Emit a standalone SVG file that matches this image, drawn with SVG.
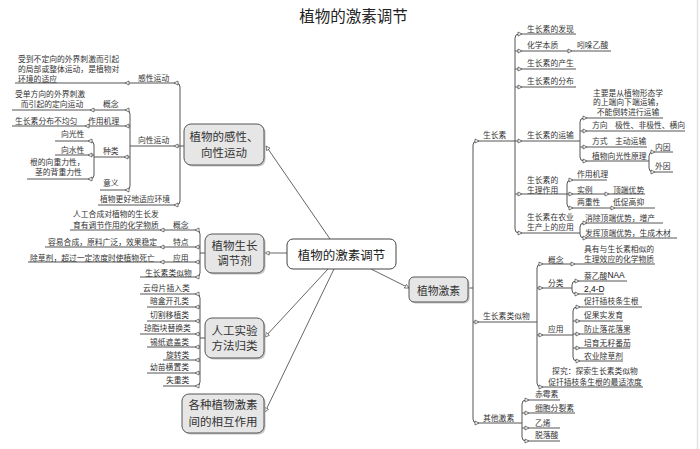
<svg xmlns="http://www.w3.org/2000/svg" xmlns:xlink="http://www.w3.org/1999/xlink" width="700" height="449" viewBox="0 0 700 449">
<style>
text{font-family:"Noto Sans CJK SC","Liberation Sans",sans-serif;dominant-baseline:central;fill:#333}
.t{font-size:7.8px}
.c{text-anchor:middle}
.n{font-size:11.5px;text-anchor:middle;fill:#333}
.lat{font-family:"Liberation Sans","Noto Sans",sans-serif;font-size:8.4px;fill:#111}
.l{fill:none;stroke:#555;stroke-width:1}
.k{fill:none;stroke:#555;stroke-width:0.9}
.box{fill:#e6e6e6;stroke:#555;stroke-width:1}
.sh{fill:#c4c4c4}
</style>
<defs>
<path id="ar" d="M-2,-2 L2,0 L-2,2 Z" fill="#fff" stroke="#555" stroke-width="0.8"/>
<path id="al" d="M2,-2 L-2,0 L2,2 Z" fill="#fff" stroke="#555" stroke-width="0.8"/>
<marker id="m" viewBox="0 0 6 6" refX="5.5" refY="3" markerWidth="5" markerHeight="5" markerUnits="userSpaceOnUse" orient="auto"><path d="M0.5,0.5 L5.5,3 L0.5,5.5 Z" fill="#fff" stroke="#444" stroke-width="0.8"/></marker>
</defs>
<rect width="700" height="449" fill="#fff"/>
<line x1="697.5" y1="0" x2="697.5" y2="449" stroke="#e2e2e2" stroke-width="1.5"/>
<text x="353.5" y="15" style="font-size:15.5px;text-anchor:middle;fill:#222">植物的激素调节</text>

<g id="connectors">
<!-- center links -->
<path class="k" d="M330,239 L266,146" marker-end="url(#m)"/>
<path class="k" d="M287,253 L265,253" marker-end="url(#m)"/>
<path class="k" d="M328,269 L265,337" marker-end="url(#m)"/>
<path class="k" d="M334,269 L265,412" marker-end="url(#m)"/>
<path class="k" d="M371,269 L409,288" marker-end="url(#m)"/>
<!-- node1 -->
<path class="l" d="M15,83 H176 Q180,83 180,87 V201 Q180,205 176,205 H98"/>
<path class="l" d="M184,146 H130"/>
<path class="l" d="M12,110 H126 Q130,110 130,114 V186 Q130,190 126,190 H100"/>
<path class="l" d="M130,126 H12 M130,157 H94"/>
<path class="l" d="M55,141 H90 Q94,141 94,145 V175 Q94,179 90,179 H27 M94,155 H55"/>
<use href="#al" x="176" y="83"/><use href="#al" x="127" y="83"/>
<use href="#al" x="176" y="146"/><use href="#al" x="176" y="205"/>
<use href="#al" x="127" y="110"/><use href="#al" x="92" y="110"/>
<use href="#al" x="127" y="126"/><use href="#al" x="87" y="126"/>
<use href="#al" x="126" y="157"/><use href="#al" x="127" y="190"/>
<use href="#al" x="90" y="141"/><use href="#al" x="90" y="155"/><use href="#al" x="90" y="179"/>
<!-- node2 -->
<path class="l" d="M70,230 H196 Q200,230 200,234 V273 Q200,277 196,277 H140 M205,253 H200 M200,247 H45 M200,262 H28"/>
<use href="#al" x="197" y="230"/><use href="#al" x="162" y="230"/>
<use href="#al" x="197" y="247"/><use href="#al" x="162" y="247"/>
<use href="#al" x="197" y="262"/><use href="#al" x="162" y="262"/>
<use href="#al" x="197" y="277"/>
<!-- node3 -->
<path class="l" d="M140,294 H196 Q200,294 200,298 V382 Q200,386 196,386 H163 M205,338 H200 M200,307 H147 M200,321 H147 M200,334 H140 M200,347 H147 M200,360 H163 M200,373 H147"/>
<use href="#al" x="197" y="294"/><use href="#al" x="197" y="307"/><use href="#al" x="197" y="321"/><use href="#al" x="197" y="334"/>
<use href="#al" x="197" y="347"/><use href="#al" x="197" y="360"/><use href="#al" x="197" y="373"/><use href="#al" x="197" y="386"/>
<!-- node5 main -->
<path class="l" d="M515,141 H477 Q473,141 473,145 V419 Q473,423 477,423 H522 M468,288 H473 M473,322 H537"/>
<path class="l" d="M576,34 H519 Q515,34 515,38 V229 Q515,233 519,233 H580 M515,51 H611 M515,69 H576 M515,87 H576 M515,141 H580 M515,194 H567"/>
<use href="#ar" x="477" y="141"/><use href="#ar" x="477" y="322"/><use href="#ar" x="477" y="423"/>
<use href="#ar" x="520" y="34"/><use href="#ar" x="520" y="51"/><use href="#ar" x="570" y="51"/><use href="#ar" x="520" y="69"/><use href="#ar" x="520" y="87"/>
<use href="#ar" x="520" y="141"/><use href="#ar" x="520" y="194"/><use href="#ar" x="520" y="233"/>
<!-- transport -->
<path class="l" d="M663,118 H584 Q580,118 580,122 V157 Q580,161 584,161 H649 M580,131 H685 M580,147 H647"/>
<path class="l" d="M673,152 H653 Q649,152 649,156 V168 Q649,172 653,172 H673"/>
<use href="#ar" x="585" y="118"/><use href="#ar" x="585" y="131"/><use href="#ar" x="585" y="147"/><use href="#ar" x="585" y="161"/>
<use href="#ar" x="653" y="152"/><use href="#ar" x="653" y="172"/>
<!-- physiology -->
<path class="l" d="M607,180 H571 Q567,180 567,184 V204 Q567,208 571,208 H655 M567,194 H645"/>
<use href="#ar" x="571" y="180"/><use href="#ar" x="571" y="194"/><use href="#ar" x="571" y="208"/>
<use href="#ar" x="607" y="194"/><use href="#ar" x="613" y="208"/>
<!-- agriculture -->
<path class="l" d="M663,223 H584 Q580,223 580,227 V234 Q580,238 584,238 H677"/>
<use href="#ar" x="585" y="223"/><use href="#ar" x="585" y="238"/>
<!-- analogues -->
<path class="l" d="M655,264 H541 Q537,264 537,268 V383 Q537,387 541,387 H643 M537,288 H572 M537,335 H573"/>
<use href="#ar" x="541" y="264"/><use href="#ar" x="573" y="264"/><use href="#ar" x="541" y="288"/><use href="#ar" x="541" y="335"/><use href="#ar" x="541" y="387"/>
<path class="l" d="M627,281 H576 Q572,281 572,285 V290 Q572,294 576,294 H604"/>
<use href="#ar" x="577" y="281"/><use href="#ar" x="577" y="294"/>
<path class="l" d="M642,307 H577 Q573,307 573,311 V357 Q573,361 577,361 H623 M573,321 H623 M573,334 H630 M573,348 H630"/>
<use href="#ar" x="578" y="307"/><use href="#ar" x="578" y="321"/><use href="#ar" x="578" y="334"/><use href="#ar" x="578" y="348"/><use href="#ar" x="578" y="361"/>
<!-- other hormones -->
<path class="l" d="M560,400 H526 Q522,400 522,404 V437 Q522,441 526,441 H560 M522,413 H575 M522,428 H560"/>
<use href="#ar" x="527" y="400"/><use href="#ar" x="527" y="413"/><use href="#ar" x="527" y="428"/><use href="#ar" x="527" y="441"/>
</g>

<g id="center">
<rect x="287" y="239" width="109" height="30" rx="6" fill="#fff" stroke="#444" stroke-width="1"/>
<text x="341.5" y="254" style="font-size:12.5px;text-anchor:middle;fill:#222">植物的激素调节</text>
</g>

<g id="node-ganxing">
<rect class="sh" x="185.5" y="125.5" width="80" height="41" rx="7"/>
<rect class="box" x="184" y="124" width="80" height="41" rx="7"/>
<text class="n" x="224" y="136">植物的感性、</text>
<text class="n" x="224" y="152">向性运动</text>
</g>
<g id="branch-ganxing" class="t">
<text class="t" x="138" y="77">感性运动</text>
<text class="t" x="18" y="58">受到不定向的外界刺激而引起</text>
<text class="t" x="18" y="68">的局部或整体运动，是植物对</text>
<text class="t" x="18" y="78">环境的适应</text>
<text class="t" x="138" y="139">向性运动</text>
<text class="t" x="103" y="103">概念</text>
<text class="t c" x="50" y="93">受单方向的外界刺激</text>
<text class="t c" x="52" y="103">而引起的定向运动</text>
<text class="t" x="88" y="120">作用机理</text>
<text class="t" x="15" y="120">生长素分布不均匀</text>
<text class="t" x="103" y="150">种类</text>
<text class="t" x="61" y="133">向光性</text>
<text class="t" x="61" y="149">向水性</text>
<text class="t" x="30" y="161">根的向重力性，</text>
<text class="t" x="35" y="171">茎的背重力性</text>
<text class="t" x="103" y="182">意义</text>
<text class="t" x="100" y="198">植物更好地适应环境</text>
</g>

<g id="node-tiaojieji">
<rect class="sh" x="206.5" y="235.5" width="59" height="39" rx="7"/>
<rect class="box" x="205" y="234" width="59" height="39" rx="7"/>
<text class="n" x="234.5" y="245">植物生长</text>
<text class="n" x="234.5" y="260">调节剂</text>
</g>
<g id="branch-tiaojieji">
<text class="t" x="173" y="224">概念</text>
<text class="t" x="73" y="213">人工合成对植物的生长发</text>
<text class="t" x="73" y="224">育有调节作用的化学物质</text>
<text class="t" x="173" y="241">特点</text>
<text class="t" x="48" y="241">容易合成，原料广泛，效果稳定</text>
<text class="t" x="173" y="257">应用</text>
<text class="t" x="30" y="257">除草剂，超过一定浓度时使植物死亡</text>
<text class="t" x="145" y="272">生长素类似物</text>
</g>

<g id="node-shiyan">
<rect class="sh" x="206.5" y="319.5" width="59" height="40" rx="7"/>
<rect class="box" x="205" y="318" width="59" height="40" rx="7"/>
<text class="n" x="234.5" y="330">人工实验</text>
<text class="n" x="234.5" y="345">方法归类</text>
</g>
<g id="branch-shiyan">
<text class="t" x="143" y="287">云母片插入类</text>
<text class="t" x="150" y="300">暗盒开孔类</text>
<text class="t" x="150" y="314">切割移植类</text>
<text class="t" x="144" y="327">琼脂块替换类</text>
<text class="t" x="150" y="341">锡纸遮盖类</text>
<text class="t" x="166" y="354">旋转类</text>
<text class="t" x="150" y="366">幼苗横置类</text>
<text class="t" x="166" y="379">失重类</text>
</g>

<g id="node-xianghu">
<rect class="sh" x="183.5" y="395.5" width="82" height="39" rx="7"/>
<rect class="box" x="182" y="394" width="82" height="39" rx="7"/>
<text class="n" x="223" y="404">各种植物激素</text>
<text class="n" x="223" y="421">间的相互作用</text>
</g>

<g id="node-jisu">
<rect class="sh" x="410.5" y="278.5" width="59" height="25" rx="5"/>
<rect class="box" x="409" y="277" width="59" height="25" rx="5"/>
<text x="438.5" y="289.5" style="font-size:10.8px;text-anchor:middle">植物激素</text>
</g>
<g id="branch-shengzhangsu">
<text class="t" x="483" y="134">生长素</text>
<text class="t" x="527" y="28">生长素的发现</text>
<text class="t" x="527" y="44">化学本质</text>
<text class="t" x="577" y="44">吲哚乙酸</text>
<text class="t" x="527" y="62">生长素的产生</text>
<text class="t" x="527" y="80">生长素的分布</text>
<text class="t" x="527" y="134">生长素的运输</text>
<text class="t c" x="628" y="92">主要是从植物形态学</text>
<text class="t c" x="628" y="101.5">的上端向下端运输，</text>
<text class="t c" x="628" y="111">不能倒转进行运输</text>
<text class="t" x="592" y="124">方向</text>
<text class="t" x="615" y="124">极性、非极性、横向</text>
<text class="t" x="592" y="140">方式</text>
<text class="t" x="615" y="140">主动运输</text>
<text class="t" x="592" y="155">植物向光性原理</text>
<text class="t" x="655" y="146">内因</text>
<text class="t" x="655" y="165">外因</text>
<text class="t" x="527" y="179">生长素的</text>
<text class="t" x="527" y="189">生理作用</text>
<text class="t" x="577" y="173">作用机理</text>
<text class="t" x="577" y="189">实例</text>
<text class="t" x="613" y="189">顶端优势</text>
<text class="t" x="577" y="201">两重性</text>
<text class="t" x="613" y="201">低促高抑</text>
<text class="t" x="527" y="216">生长素在农业</text>
<text class="t" x="527" y="226">生产上的应用</text>
<text class="t" x="585" y="217">消除顶端优势，增产</text>
<text class="t" x="585" y="232">发挥顶端优势，生成木材</text>
</g>
<g id="branch-leisiwu">
<text class="t" x="483" y="315">生长素类似物</text>
<text class="t" x="548" y="259">概念</text>
<text class="t" x="584" y="248">具有与生长素相似的</text>
<text class="t" x="584" y="258">生理效应的化学物质</text>
<text class="t" x="548" y="282">分类</text>
<text class="t" x="584" y="275">萘乙酸<tspan class="lat">NAA</tspan></text>
<text class="lat" x="584" y="289">2,4-D</text>
<text class="t" x="548" y="328">应用</text>
<text class="t" x="584" y="300">促扦插枝条生根</text>
<text class="t" x="584" y="314">促果实发育</text>
<text class="t" x="584" y="328">防止落花落果</text>
<text class="t" x="584" y="342">培育无籽番茄</text>
<text class="t" x="584" y="355">农业除草剂</text>
<text class="t c" x="595" y="370">探究：探索生长素类似物</text>
<text class="t c" x="595" y="381">促扦插枝条生根的最适浓度</text>
</g>
<g id="branch-qita">
<text class="t" x="483" y="417">其他激素</text>
<text class="t" x="535" y="393">赤霉素</text>
<text class="t" x="535" y="407">细胞分裂素</text>
<text class="t" x="535" y="422">乙烯</text>
<text class="t" x="535" y="434">脱落酸</text>
</g>
</svg>
